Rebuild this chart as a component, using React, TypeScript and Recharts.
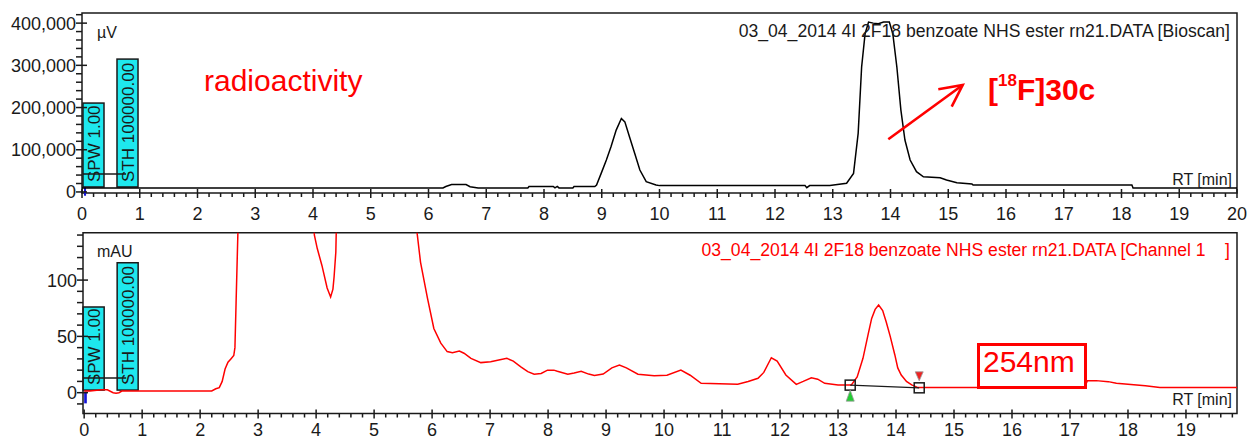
import React from 'react';
import { LineChart, Line, XAxis, YAxis, ReferenceArea, ReferenceLine, ReferenceDot } from 'recharts';

const FONT = '"Liberation Sans", Arial, sans-serif';
const RED = '#ff0000';
const INK = '#1a1a1a';

// Bioscan radio detector trace: retention time (min) / signal (µV)
const radioTime = [
  0, 6.25, 6.3, 6.4, 6.65, 6.72, 6.86, 7.72, 7.74, 8.16, 8.19, 8.23, 8.26, 8.5, 8.52, 8.88,
  8.91, 8.99, 9.08, 9.16, 9.25, 9.34, 9.4, 9.48, 9.57, 9.66, 9.77, 9.94, 10.0, 12.52, 12.55, 12.6,
  12.95, 13.24, 13.36, 13.44, 13.5, 13.56, 13.62, 13.7, 13.79, 13.88, 13.98, 14.04, 14.11, 14.18,
  14.25, 14.34, 14.45, 14.57, 14.86, 14.97, 15.15, 15.41, 15.43, 18.18, 18.2, 20,
];
const radioSignal = [
  9500, 9500, 13000, 17500, 17500, 12500, 9500, 9500, 13000, 13000, 9500, 13000, 9500, 9500, 13000, 13000,
  16500, 44000, 75600, 107000, 146600, 174000, 166000, 130700, 91500, 52000, 24400, 16500, 15000, 15000, 10000, 15000,
  15000, 20500, 44000, 138800, 296000, 375000, 402600, 400000, 398800, 402600, 402600, 375000, 296000, 193900,
  123000, 75600, 48000, 36000, 33800, 28400, 22000, 19000, 16500, 16500, 9500, 9500,
];

// UV channel at 254 nm: retention time (min) / absorbance (mAU)
const uvTime = [
  0, 0.1, 0.3, 0.4, 0.5, 0.55, 0.6, 0.65, 2.2, 2.27, 2.33, 2.38, 2.43, 2.48, 2.53, 2.58, 2.6, 2.62,
  2.66, 2.75, 3.8, 3.9, 3.97, 4.02, 4.1, 4.19, 4.25, 4.29, 4.31, 4.34, 4.37, 4.5, 5.6, 5.7, 5.8,
  5.92, 6.03, 6.15, 6.26, 6.35, 6.47, 6.55, 6.67, 6.84, 7.01, 7.15, 7.29, 7.4, 7.53, 7.65, 7.76,
  7.88, 7.99, 8.1, 8.16, 8.34, 8.45, 8.57, 8.7, 8.8, 8.95, 9.1, 9.23, 9.35, 9.55, 9.83, 10.05,
  10.29, 10.45, 10.64, 11.27, 11.45, 11.62, 11.72, 11.85, 11.95, 12.1, 12.28, 12.4, 12.54, 12.65,
  12.77, 13.0, 13.23, 13.33, 13.43, 13.52, 13.58, 13.64, 13.7, 13.77, 13.83, 13.9, 13.98, 14.03,
  14.09, 14.18, 14.27, 14.38, 17.25, 17.3, 17.45, 17.66, 17.8, 18.3, 18.55, 19.9,
];
const uvSignal = [
  1.5, 1.5, 2.5, 2.5, 0, -0.5, 0, 1.5, 1.5, 3.5, 4.5, 10, 21, 27, 30, 33, 40, 80,
  160, 400, 400, 200, 140, 128, 113, 93, 85, 92, 103, 125, 200, 400, 400, 160, 116,
  84, 57, 44, 36.5, 35.5, 37, 35, 30.5, 26.7, 27.5, 29, 30.5, 28, 23, 18.7, 16.4,
  17, 20, 20, 19, 16.4, 17.5, 19, 16.5, 15.2, 16.5, 22, 24.6, 22, 16.4, 15, 15.5,
  20, 15.5, 8.3, 7.4, 10, 12.8, 18, 31, 28, 15.7, 7.4, 10, 13.3, 12,
  8.3, 6.9, 6.9, 14, 30.5, 52, 66, 74, 77.8, 73, 63, 50, 33.5, 22,
  15.7, 10, 6.9, 4.5, 4.5, 10.7, 10.7, 9.8, 8.3, 6.2, 4.5, 4.5,
];

// axis ticks
const radioMajorX = [0, 1, 2, 3, 4, 5, 6, 7, 8, 9, 10, 11, 12, 13, 14, 15, 16, 17, 18, 19, 20];
const uvMajorX = [0, 1, 2, 3, 4, 5, 6, 7, 8, 9, 10, 11, 12, 13, 14, 15, 16, 17, 18, 19];
const radioMajorY = [0, 100000, 200000, 300000, 400000];
const uvMajorY = [0, 50, 100];

const radioXTicks = Array.from({ length: 101 }, (_, i) => i / 5);
const uvXTicks = Array.from({ length: 100 }, (_, i) => i / 5);
const radioYTicks = Array.from({ length: 22 }, (_, i) => i * 20000);
const uvYTicks = Array.from({ length: 16 }, (_, i) => (i - 1) * 10);

const radioData = radioTime.map((t, i) => ({ t, v: radioSignal[i] }));
const uvData = uvTime.map((t, i) => ({ t, v: uvSignal[i] }));

const XTick = ({ x, y, payload, majors, labelDy }: any) => {
  const major = majors.includes(payload.value);
  return (
    <g>
      <line x1={x} x2={x} y1={major ? y - 4 : y} y2={major ? y + 5 : y + 4} stroke={INK} strokeWidth={1.5} />
      {major && (
        <text x={x} y={y + labelDy} textAnchor="middle" fontSize={18} fill={INK} fontFamily={FONT}>
          {payload.value}
        </text>
      )}
    </g>
  );
};

const YTick = ({ x, y, payload, majors }: any) => {
  const major = majors.includes(payload.value);
  return (
    <g>
      <line x1={x - 6} x2={major ? x + 5 : x} y1={y} y2={y} stroke={INK} strokeWidth={1.5} />
      {major && (
        <text x={x - 6} y={y + 6.5} textAnchor="end" fontSize={18} fill={INK} fontFamily={FONT}>
          {payload.value.toLocaleString('en-US')}
        </text>
      )}
    </g>
  );
};

// cyan event flag with vertical caption
const eventFlag = (caption: string) => (p: any) => (
  <g>
    <rect x={p.x} y={p.y} width={p.width} height={p.height} fill="#1ee8ee" stroke={INK} strokeWidth={1.5} />
    <text
      transform={`translate(${p.x + p.width / 2 + 1}, ${p.y + p.height - 5}) rotate(-90)`}
      fontSize={17}
      fontFamily={FONT}
      fill={INK}
      dominantBaseline="central"
    >
      {caption}
    </text>
  </g>
);

const startMark = ({ cx, cy }: any) => (
  <g>
    <rect x={cx - 5} y={cy - 5} width={10} height={10} fill="none" stroke={INK} strokeWidth={1.5} />
    <path d={`M${cx},${cy + 5} L${cx + 4},${cy + 16} L${cx - 4},${cy + 16} Z`} fill="#22cc33" stroke="#999" strokeWidth={0.8} />
  </g>
);

const endMark = ({ cx, cy }: any) => (
  <g>
    <rect x={cx - 5} y={cy - 5} width={10} height={10} fill="none" stroke={INK} strokeWidth={1.5} />
    <path d={`M${cx},${cy - 7} L${cx + 4},${cy - 16} L${cx - 4},${cy - 16} Z`} fill="#ee2222" stroke="#999" strokeWidth={0.8} />
  </g>
);

export default function App() {
  return (
    <div style={{ position: 'absolute', left: 0, top: 0, width: 1250, height: 440, background: '#fff', fontFamily: FONT }}>
      <div style={{ position: 'absolute', left: 0, top: 0 }}>
        <LineChart width={1250} height={230} data={radioData} margin={{ top: 13, right: 13, bottom: 15, left: 0 }}>
          <XAxis
            dataKey="t"
            type="number"
            domain={[0, 20]}
            ticks={radioXTicks}
            interval={0}
            height={22}
            axisLine={false}
            tickLine={false}
            tickSize={0}
            tickMargin={0}
            tick={<XTick majors={radioMajorX} labelDy={27} />}
          />
          <YAxis
            type="number"
            domain={[-2500, 424000]}
            allowDataOverflow
            ticks={radioYTicks}
            interval={0}
            width={82}
            axisLine={false}
            tickLine={false}
            tickSize={0}
            tickMargin={0}
            tick={<YTick majors={radioMajorY} />}
          />
          <ReferenceArea x1={0} x2={20} y1={-2500} y2={424000} fill="none" stroke={INK} strokeWidth={1.5} fillOpacity={0} ifOverflow="visible" />
          <ReferenceArea x1={0.017} x2={0.381} y1={11800} y2={210600} shape={eventFlag('SPW 1.00')} ifOverflow="visible" />
          <ReferenceArea x1={0.606} x2={0.97} y1={11800} y2={314800} shape={eventFlag('STH 100000.00')} ifOverflow="visible" />
          <ReferenceLine segment={[{ x: 0.017, y: 42600 }, { x: 0.762, y: 42600 }]} stroke={INK} strokeWidth={1.5} ifOverflow="visible" />
          <ReferenceArea x1={0.035} x2={0.07} y1={-9000} y2={11000} fill="#1414d8" fillOpacity={1} ifOverflow="visible" />
          <Line type="linear" dataKey="v" stroke="#000" strokeWidth={1.5} dot={false} isAnimationActive={false} />
        </LineChart>
      </div>

      <div style={{ position: 'absolute', left: 0, top: 215 }}>
        <LineChart width={1250} height={225} data={uvData} margin={{ top: 17.8, right: 13, bottom: 0, left: 0 }}>
          <XAxis
            dataKey="t"
            type="number"
            domain={[-0.02, 19.88]}
            allowDataOverflow
            ticks={uvXTicks}
            interval={0}
            height={26.5}
            axisLine={false}
            tickLine={false}
            tickSize={0}
            tickMargin={0}
            tick={<XTick majors={uvMajorX} labelDy={22.3} />}
          />
          <YAxis
            type="number"
            domain={[-18.5, 142]}
            allowDataOverflow
            ticks={uvYTicks}
            interval={0}
            width={83}
            axisLine={false}
            tickLine={false}
            tickSize={0}
            tickMargin={0}
            tick={<YTick majors={uvMajorY} />}
          />
          <ReferenceArea x1={-0.02} x2={19.88} y1={-18.5} y2={142} fill="none" stroke={INK} strokeWidth={1.5} fillOpacity={0} ifOverflow="visible" />
          <ReferenceArea x1={-0.017} x2={0.345} y1={2.3} y2={76.1} shape={eventFlag('SPW 1.00')} ifOverflow="visible" />
          <ReferenceArea x1={0.569} x2={0.931} y1={2.3} y2={115.4} shape={eventFlag('STH 100000.00')} ifOverflow="visible" />
          <ReferenceLine segment={[{ x: -0.017, y: 13.1 }, { x: 0.724, y: 13.1 }]} stroke={INK} strokeWidth={1.5} ifOverflow="visible" />
          <ReferenceArea x1={0.0} x2={0.046} y1={-9.5} y2={0.8} fill="#1414d8" fillOpacity={1} ifOverflow="visible" />
          <Line type="linear" dataKey="v" stroke={RED} strokeWidth={1.5} dot={false} isAnimationActive={false} />
          <ReferenceLine segment={[{ x: 13.21, y: 6.7 }, { x: 14.4, y: 4.3 }]} stroke={INK} strokeWidth={1.3} />
          <ReferenceDot x={13.21} y={6.7} shape={startMark} />
          <ReferenceDot x={14.4} y={4.3} shape={endMark} />
        </LineChart>
      </div>

      {/* panel captions and annotations */}
      <svg width={1250} height={440} style={{ position: 'absolute', left: 0, top: 0, pointerEvents: 'none' }} fontFamily={FONT}>
        <text x={97} y={37.5} fontSize={16} fill={INK}>µV</text>
        <text x={1230} y={36.5} fontSize={17.6} fill={INK} textAnchor="end">
          03_04_2014 4I 2F18 benzoate NHS ester rn21.DATA [Bioscan]
        </text>
        <text x={1232} y={185} fontSize={16} fill={INK} textAnchor="end">RT [min]</text>
        <text x={204} y={90.5} fontSize={30} fill={RED}>radioactivity</text>
        <text x={988} y={100} fontSize={30} fontWeight="bold" fill={RED}>
          [<tspan fontSize={17} dy={-14}>18</tspan>
          <tspan dy={14}>F]30c</tspan>
        </text>
        <line x1={888.3} y1={139.3} x2={962.7} y2={85} stroke={RED} strokeWidth={2.6} />
        <polyline points="938.3,89.3 962.7,85 951.7,106.7" fill="none" stroke={RED} strokeWidth={2.6} />

        <text x={97} y={256.7} fontSize={16} fill={INK}>mAU</text>
        <text x={1230} y={255.5} fontSize={17.6} fill={RED} textAnchor="end" style={{ whiteSpace: 'pre' }}>
          {'03_04_2014 4I 2F18 benzoate NHS ester rn21.DATA [Channel 1    ]'}
        </text>
        <text x={1232} y={405} fontSize={16} fill={INK} textAnchor="end">RT [min]</text>
        <rect x={978.5} y={344.5} width={107} height={43} fill="none" stroke={RED} strokeWidth={3} />
        <text x={983} y={371.7} fontSize={30} fill={RED}>254nm</text>
      </svg>
    </div>
  );
}
